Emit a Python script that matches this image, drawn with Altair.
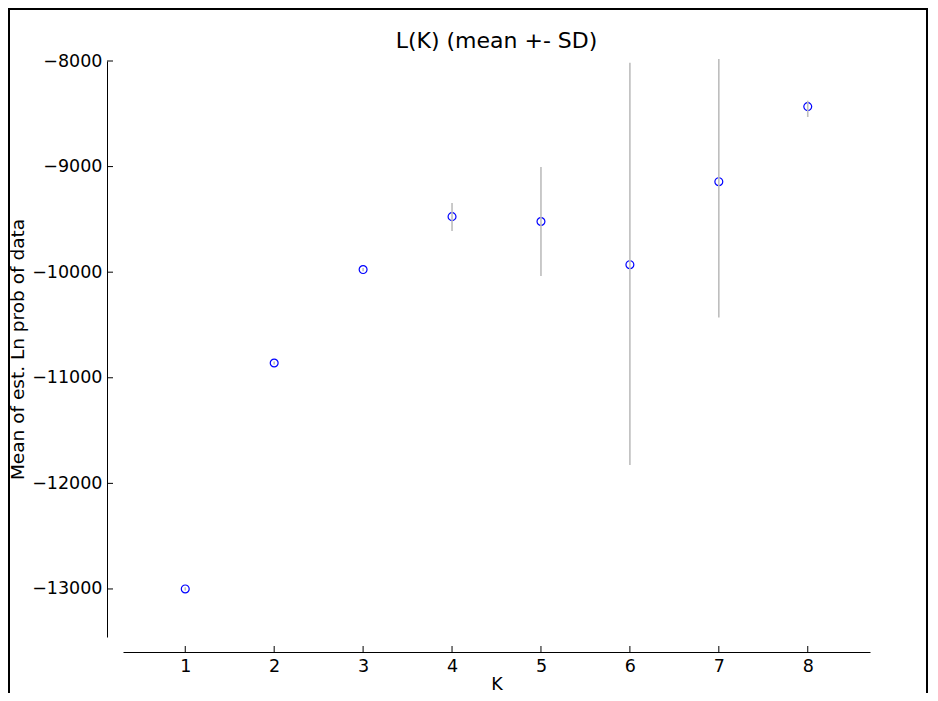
import altair as alt
import pandas as pd

K = [1, 2, 3, 4, 5, 6, 7, 8]
mean_lnp = [-13000, -10860, -9975, -9474, -9520, -9929, -9143, -8432]
lower = [-13015, -10875, -9990, -9610, -10036, -11826, -10430, -8530]
upper = [-12985, -10845, -9960, -9345, -9004, -8016, -7981, -8376]
y_ticks = [-13000, -12000, -11000, -10000, -9000, -8000]
x_ticks = [1, 2, 3, 4, 5, 6, 7, 8]

df = pd.DataFrame({"K": K, "mean": mean_lnp, "lo": lower, "hi": upper})
ydf = pd.DataFrame({"mean": y_ticks})
xdf = pd.DataFrame({"K": x_ticks})

W, H = 747, 576
FONT = "DejaVu Sans"

xscale = alt.Scale(domain=[0.3, 8.7], nice=False, zero=False)
yscale = alt.Scale(domain=[-13455, -8000], nice=False, zero=False)

base = alt.Chart(df)

pts = base.mark_point(
    shape="circle", filled=False, color="#0000ff", size=62, strokeWidth=1.2, opacity=1
).encode(
    x=alt.X(
        "K:Q",
        scale=xscale,
        axis=alt.Axis(
            title="K",
            values=x_ticks,
            format="d",
            offset=15,
            tickSize=0,
            labelPadding=5,
            titlePadding=1,
        ),
    ),
    y=alt.Y(
        "mean:Q",
        scale=yscale,
        axis=alt.Axis(
            title="Mean of est. Ln prob of data",
            values=y_ticks,
            format="d",
            offset=16,
            tickSize=0,
            labelPadding=5,
            titlePadding=4,
            titleFontSize=18.5,
        ),
    ),
)

err = base.mark_rule(color="#bdbdbd", strokeWidth=1.6, clip=False).encode(
    x=alt.X("K:Q", scale=xscale),
    y=alt.Y("lo:Q", scale=yscale),
    y2="hi:Q",
)

yt = alt.Chart(ydf).mark_rule(color="black", strokeWidth=1).encode(
    x=alt.value(-16), x2=alt.value(-10), y=alt.Y("mean:Q", scale=yscale)
)
xt = alt.Chart(xdf).mark_rule(color="black", strokeWidth=1).encode(
    x=alt.X("K:Q", scale=xscale), y=alt.value(H + 15), y2=alt.value(H + 9)
)

frame_l = alt.Chart(xdf).mark_rule(color="black", strokeWidth=2, clip=False).encode(
    x=alt.value(-114), y=alt.value(-52), y2=alt.value(H + 60)
)
frame_t = alt.Chart(xdf).mark_rule(color="black", strokeWidth=2, clip=False).encode(
    x=alt.value(-115), x2=alt.value(W + 58), y=alt.value(-52)
)
frame_r = alt.Chart(xdf).mark_rule(color="black", strokeWidth=2, clip=False).encode(
    x=alt.value(W + 57), y=alt.value(-52), y2=alt.value(H + 60)
)

chart = alt.layer(pts, err, yt, xt, frame_l, frame_t, frame_r).properties(
    width=W,
    height=H,
    autosize=alt.AutoSizeParams(type="none"),
    padding={"left": 115, "top": 53, "right": 60, "bottom": 56},
    title=alt.TitleParams(
        "L(K) (mean +- SD)",
        font=FONT,
        fontSize=22,
        fontWeight="normal",
        color="black",
        anchor="middle",
        offset=-45,
    ),
).configure_view(stroke=None).configure_axis(
    grid=False,
    domainColor="black",
    domainWidth=1,
    labelFont=FONT,
    labelFontSize=17.5,
    labelColor="black",
    titleFont=FONT,
    titleFontSize=17.5,
    titleFontWeight="normal",
    titleColor="black",
)

chart.save("out.html", embed_options={"renderer": "svg", "actions": False})
